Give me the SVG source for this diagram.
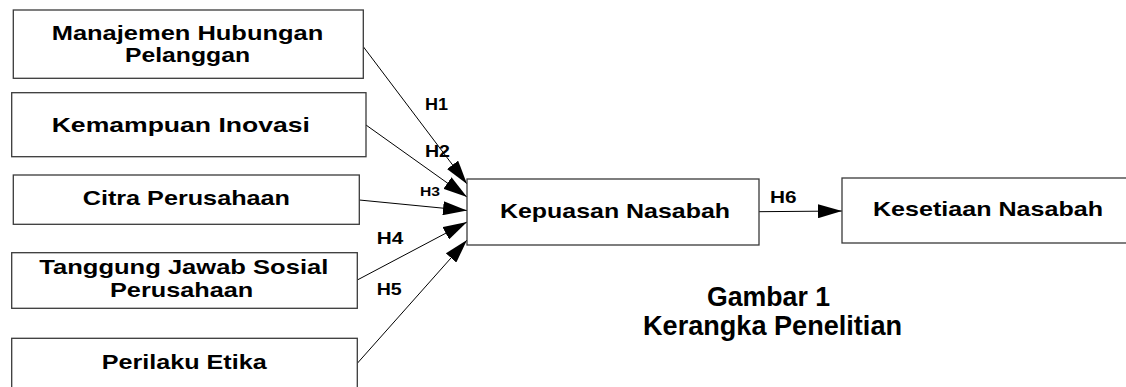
<svg xmlns="http://www.w3.org/2000/svg" width="1126" height="387" viewBox="0 0 1126 387">
<style>
.box{fill:#fff;stroke:#3a3a3a;stroke-width:1.3}
.lbl{font-family:"Liberation Sans",Arial,sans-serif;font-weight:bold;font-size:21px;fill:#000}
.h{font-family:"Liberation Sans",Arial,sans-serif;font-weight:bold;font-size:16px;fill:#000}
.cap{font-family:"Liberation Sans",Arial,sans-serif;font-weight:bold;font-size:28px;fill:#000}
.ln{stroke:#000;stroke-width:1;fill:none;marker-end:url(#ah)}
</style>
<defs>
<marker id="ah" markerUnits="userSpaceOnUse" markerWidth="24" markerHeight="14" refX="24" refY="7" orient="auto">
<path d="M0,0 L24,7 L0,14 z" fill="#000"/>
</marker>
</defs>
<rect width="1126" height="387" fill="#fff"/>
<g id="connectors">
<line class="ln" x1="363.3" y1="46.7" x2="467" y2="184"/>
<line class="ln" x1="366" y1="125" x2="467" y2="197"/>
<line class="ln" x1="359.3" y1="200" x2="467" y2="210.5"/>
<line class="ln" x1="357.3" y1="280" x2="467" y2="222"/>
<line class="ln" x1="357.3" y1="363.3" x2="467" y2="240"/>
<line class="ln" x1="759" y1="211.7" x2="842" y2="211"/>
<text class="h" x="425" y="110" textLength="23" lengthAdjust="spacingAndGlyphs">H1</text>
<text class="h" x="425" y="156.7" textLength="25" lengthAdjust="spacingAndGlyphs">H2</text>
<text class="h" x="420" y="196" style="font-size:13px" textLength="20" lengthAdjust="spacingAndGlyphs">H3</text>
<text class="h" x="376.7" y="244.3" textLength="26.5" lengthAdjust="spacingAndGlyphs">H4</text>
<text class="h" x="376.7" y="295" textLength="25" lengthAdjust="spacingAndGlyphs">H5</text>
<text class="h" x="770" y="203.3" textLength="26.5" lengthAdjust="spacingAndGlyphs">H6</text>
</g>
<g id="n1">
<rect class="box" x="13.3" y="10" width="350" height="68.3"/>
<text class="lbl" x="51.7" y="39.5" textLength="271.6" lengthAdjust="spacingAndGlyphs">Manajemen Hubungan</text>
<text class="lbl" x="125" y="61.7" textLength="125" lengthAdjust="spacingAndGlyphs">Pelanggan</text>
</g>
<g id="n2">
<rect class="box" x="11.7" y="92.7" width="354.3" height="64"/>
<text class="lbl" x="51.7" y="131.7" textLength="258.3" lengthAdjust="spacingAndGlyphs">Kemampuan Inovasi</text>
</g>
<g id="n3">
<rect class="box" x="13.3" y="175" width="346" height="49.3"/>
<text class="lbl" x="82.7" y="205" textLength="207.3" lengthAdjust="spacingAndGlyphs">Citra Perusahaan</text>
</g>
<g id="n4">
<rect class="box" x="11.7" y="252.7" width="345.6" height="55.6"/>
<text class="lbl" x="39.3" y="274.3" textLength="289" lengthAdjust="spacingAndGlyphs">Tanggung Jawab Sosial</text>
<text class="lbl" x="110" y="297.3" textLength="143.3" lengthAdjust="spacingAndGlyphs">Perusahaan</text>
</g>
<g id="n5">
<rect class="box" x="11.7" y="338.3" width="345.6" height="70"/>
<text class="lbl" x="101.7" y="369.3" textLength="165" lengthAdjust="spacingAndGlyphs">Perilaku Etika</text>
</g>
<g id="n6">
<rect class="box" x="467" y="179" width="292" height="66"/>
<text class="lbl" x="500" y="218" textLength="230" lengthAdjust="spacingAndGlyphs">Kepuasan Nasabah</text>
</g>
<g id="n7">
<rect class="box" x="842" y="178" width="292" height="65"/>
<text class="lbl" x="873" y="216" textLength="230" lengthAdjust="spacingAndGlyphs">Kesetiaan Nasabah</text>
</g>
<g id="caption">
<text class="cap" x="707" y="305.5" textLength="123" lengthAdjust="spacingAndGlyphs">Gambar 1</text>
<text class="cap" x="643" y="335" textLength="259" lengthAdjust="spacingAndGlyphs">Kerangka Penelitian</text>
</g>
</svg>
